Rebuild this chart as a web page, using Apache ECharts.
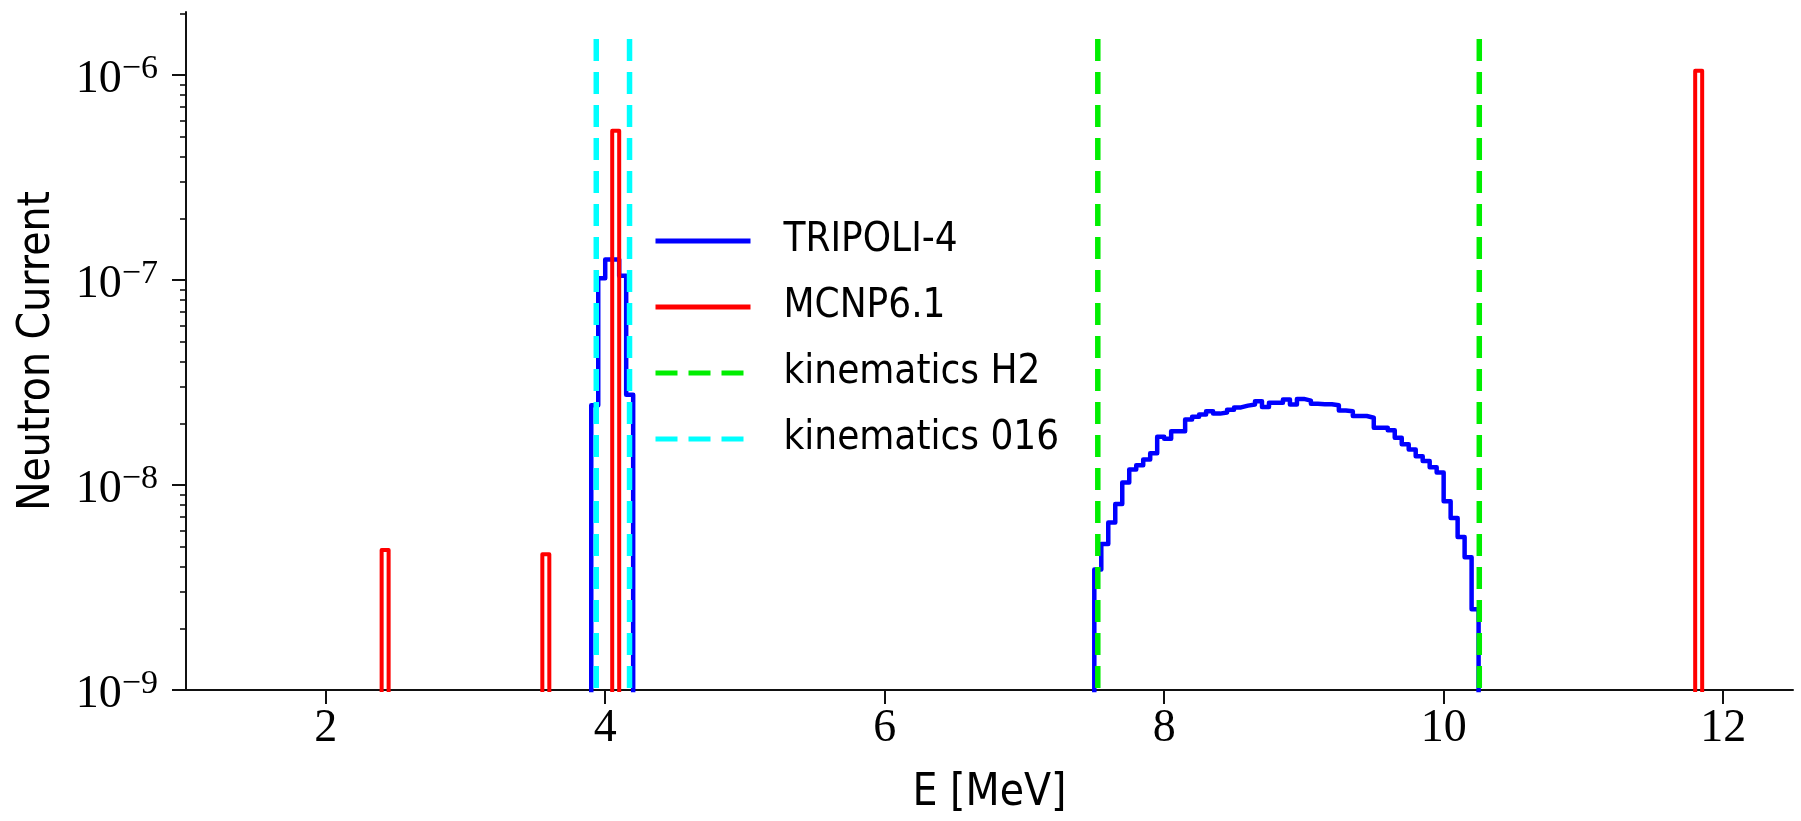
<!DOCTYPE html>
<html>
<head>
<meta charset="utf-8">
<script src="https://cdn.jsdelivr.net/npm/echarts@6/dist/echarts.min.js"></script>
<style>
html, body { margin: 0; padding: 0; background: #ffffff; }
#chart { width: 1801px; height: 821px; }
</style>
</head>
<body>
<div id="chart"></div>
<script>
// Energy bin width of both tallies (MeV)
const BIN_WIDTH = 0.05;

// TRIPOLI-4 neutron current: lower edge of the first bin and per-bin values
const tripoliPeakStart = 3.90;
const tripoliPeak = [2.45e-8, 1.02e-7, 1.26e-7, 1.26e-7, 1.05e-7, 2.76e-8];
const tripoliBandStart = 7.50;
const tripoliBand = [
  3.87e-9, 5.16e-9, 6.57e-9, 8.07e-9, 1.03e-8, 1.19e-8, 1.25e-8, 1.33e-8, 1.43e-8, 1.72e-8,
  1.68e-8, 1.83e-8, 1.83e-8, 2.09e-8, 2.15e-8, 2.21e-8, 2.29e-8, 2.23e-8, 2.26e-8, 2.33e-8,
  2.39e-8, 2.44e-8, 2.47e-8, 2.56e-8, 2.40e-8, 2.52e-8, 2.52e-8, 2.61e-8, 2.47e-8, 2.63e-8,
  2.58e-8, 2.49e-8, 2.48e-8, 2.48e-8, 2.45e-8, 2.31e-8, 2.29e-8, 2.17e-8, 2.17e-8, 2.13e-8,
  1.90e-8, 1.90e-8, 1.85e-8, 1.70e-8, 1.58e-8, 1.49e-8, 1.38e-8, 1.31e-8, 1.22e-8, 1.15e-8,
  8.34e-9, 6.90e-9, 5.57e-9, 4.44e-9, 2.48e-9
];

// MCNP6.1 neutron current: lower edges of the non-empty bins and their values
const mcnpEdges = [2.40, 3.55, 4.05, 11.80];
const mcnpValues = [4.82e-9, 4.59e-9, 5.35e-7, 1.05e-6];

// Kinematic limits of the scattered neutron energy (MeV)
const kinematicsH2 = [7.525, 10.255];
const kinematicsO16 = [3.936, 4.174];
const kinematicsTop = 1.5e-6;

// Axis ticks
const xTicks = [2, 4, 6, 8, 10, 12];
const yDecades = [1e-9, 1e-8, 1e-7, 1e-6];
const yMinorMantissa = [2, 3, 4, 5, 6, 7, 8, 9];

// Empty bins sit far below the visible range and are clipped away
const FLOOR = 1e-12;
const Y_MIN = 1e-9;
const Y_MAX = 2.03e-6;

const round = v => Math.round(v * 1e6) / 1e6;

// Outline of a step histogram made of contiguous runs of bins
function stepOutline(runs) {
  const pts = [];
  runs.forEach(run => {
    pts.push([round(run.start), FLOOR]);
    run.values.forEach((v, i) => {
      const lo = run.start + i * BIN_WIDTH;
      pts.push([round(lo), v], [round(lo + BIN_WIDTH), v]);
    });
    pts.push([round(run.start + run.values.length * BIN_WIDTH), FLOOR]);
  });
  return pts;
}

const tripoliLine = stepOutline([
  { start: tripoliPeakStart, values: tripoliPeak },
  { start: tripoliBandStart, values: tripoliBand }
]);
const mcnpLine = stepOutline(mcnpEdges.map((e, i) => ({ start: e, values: [mcnpValues[i]] })));

const yMinorTicks = [];
yDecades.forEach(d => yMinorMantissa.forEach(m => {
  const v = m * d;
  if (v < Y_MAX) yMinorTicks.push(v);
}));

const SERIF = "'Liberation Serif', 'DejaVu Serif', serif";
const SANS = "'DejaVu Sans Condensed', 'Liberation Sans Narrow', 'DejaVu Sans', sans-serif";
const INK = '#111111';
const DASH = [22, 11];

function kinematicSeries(name, energies, color) {
  return energies.map(e => ({
    name: name,
    type: 'line',
    data: [[e, kinematicsTop], [e, FLOOR]],
    symbol: 'none',
    clip: true,
    silent: true,
    lineStyle: { color: color, width: 5.5, type: DASH, cap: 'butt' },
    itemStyle: { color: color }
  }));
}

const chart = echarts.init(document.getElementById('chart'), null, { renderer: 'canvas' });

chart.setOption({
  animation: false,
  backgroundColor: '#ffffff',
  grid: { left: 186, right: 8, top: 12, bottom: 129, containLabel: false },
  legend: {
    orient: 'vertical',
    left: 653,
    top: 218,
    padding: 0,
    itemWidth: 95,
    itemHeight: 14,
    itemGap: 20,
    selectedMode: false,
    lineStyle: { width: 5 },
    itemStyle: { opacity: 0 },
    textStyle: {
      fontSize: 40, fontFamily: SANS, color: '#000000',
      lineHeight: 46, padding: [0, 0, 0, 28]
    },
    data: ['TRIPOLI-4', 'MCNP6.1', 'kinematics H2', 'kinematics 016']
  },
  xAxis: {
    type: 'value',
    min: 1,
    max: 12.5,
    name: 'E [MeV]',
    nameLocation: 'middle',
    nameGap: 82,
    nameTextStyle: { fontSize: 44, fontFamily: SANS, color: '#000000', lineHeight: 44 },
    splitLine: { show: false },
    axisLine: { show: true, onZero: false, lineStyle: { color: INK, width: 2 } },
    axisTick: { show: true, length: 14, customValues: xTicks, lineStyle: { color: INK, width: 2 } },
    axisLabel: {
      customValues: xTicks, margin: 16,
      fontSize: 46, fontFamily: SERIF, color: '#000000', lineHeight: 46
    }
  },
  yAxis: [
    {
      type: 'log',
      logBase: 10,
      min: Y_MIN,
      max: Y_MAX,
      position: 'left',
      name: 'Neutron Current',
      nameLocation: 'middle',
      nameGap: 126,
      nameTextStyle: { fontSize: 44, fontFamily: SANS, color: '#000000', lineHeight: 44 },
      splitLine: { show: false },
      axisLine: { show: true, onZero: false, lineStyle: { color: INK, width: 2 } },
      axisTick: { show: true, length: 14, customValues: yDecades, lineStyle: { color: INK, width: 2 } },
      axisLabel: {
        customValues: yDecades,
        margin: 28,
        color: '#000000',
        fontSize: 46,
        fontFamily: SERIF,
        formatter: v => {
          const e = Math.round(Math.log10(v));
          return '{b|10}{s|' + (e < 0 ? '\u2212' : '') + Math.abs(e) + '}';
        },
        rich: {
          b: { fontSize: 46, fontFamily: SERIF, color: '#000000', lineHeight: 46, padding: [9, 0, 0, 0] },
          s: { fontSize: 34, fontFamily: SERIF, color: '#000000', lineHeight: 34, verticalAlign: 'top' }
        }
      }
    },
    {
      type: 'log',
      logBase: 10,
      min: Y_MIN,
      max: Y_MAX,
      position: 'left',
      splitLine: { show: false },
      axisLine: { show: false },
      axisLabel: { show: false },
      axisTick: { show: true, length: 6, customValues: yMinorTicks, lineStyle: { color: INK, width: 1.6 } }
    }
  ],
  series: [
    {
      name: 'TRIPOLI-4',
      type: 'line',
      data: tripoliLine,
      symbol: 'none',
      clip: true,
      silent: true,
      lineStyle: { color: '#0000ff', width: 4.5, join: 'round' },
      itemStyle: { color: '#0000ff' }
    },
    {
      name: 'MCNP6.1',
      type: 'line',
      data: mcnpLine,
      symbol: 'none',
      clip: true,
      silent: true,
      lineStyle: { color: '#ff0000', width: 4, join: 'round' },
      itemStyle: { color: '#ff0000' }
    },
    ...kinematicSeries('kinematics H2', kinematicsH2, '#00ee00'),
    ...kinematicSeries('kinematics 016', kinematicsO16, '#00ffff')
  ]
});
</script>
</body>
</html>
